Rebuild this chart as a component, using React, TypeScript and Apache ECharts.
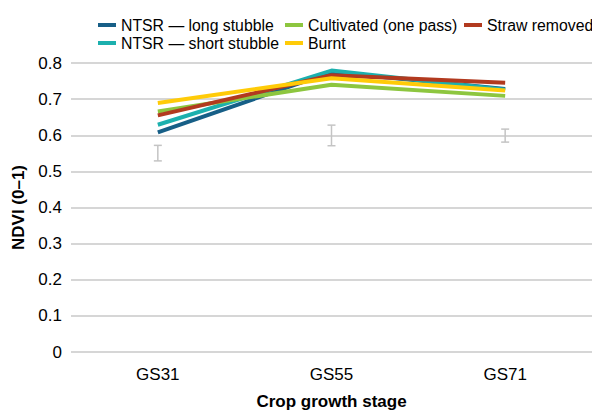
import React, { useEffect, useRef } from "react";
import * as echarts from "echarts";

const categories = ["GS31", "GS55", "GS71"];
const seriesNames = [
  "NTSR — long stubble",
  "NTSR — short stubble",
  "Cultivated (one pass)",
  "Straw removed",
  "Burnt",
];
const longStubble = [0.608, 0.775, 0.728];
const shortStubble = [0.629, 0.779, 0.726];
const cultivated = [0.666, 0.74, 0.709];
const strawRemoved = [0.655, 0.766, 0.745];
const burnt = [0.689, 0.758, 0.724];
const errLow = [0.529, 0.571, 0.581];
const errHigh = [0.572, 0.628, 0.617];
const colors = ["#175f87", "#1cb0ae", "#8dc63f", "#b23a1f", "#ffcb08"];
const yTicks = { min: 0, max: 0.8, interval: 0.1 };

export default function App() {
  const ref = useRef<HTMLDivElement>(null);
  useEffect(() => {
    const chart = echarts.init(ref.current!, null, { renderer: "svg" });
    const values = [longStubble, shortStubble, cultivated, strawRemoved, burnt];
    const font = "'Liberation Sans', Arial, Helvetica, sans-serif";
    const legendCommon = {
      orient: "vertical" as const,
      top: 12,
      itemWidth: 18,
      itemHeight: 4,
      itemGap: 2,
      icon: "rect",
      textStyle: { fontFamily: font, fontSize: 15.8, color: "#000" },
    };
    chart.setOption({
      animation: false,
      textStyle: { fontFamily: font },
      legend: [
        { ...legendCommon, left: 93, data: [seriesNames[0], seriesNames[1]] },
        { ...legendCommon, left: 280, data: [seriesNames[2], seriesNames[4]] },
        { ...legendCommon, left: 459, data: [seriesNames[3]] },
      ],
      grid: { left: 71, top: 63, width: 529, height: 294, containLabel: false },
      xAxis: {
        type: "category",
        data: categories,
        boundaryGap: true,
        axisLine: { show: false },
        axisTick: { show: false },
        axisLabel: { fontSize: 17, color: "#000", margin: 14, fontFamily: font },
        name: "Crop growth stage",
        nameLocation: "middle",
        nameGap: 41,
        nameTextStyle: { fontSize: 17, fontWeight: "bold", color: "#000", fontFamily: font },
      },
      yAxis: {
        type: "value",
        min: yTicks.min,
        max: yTicks.max,
        interval: yTicks.interval,
        axisLine: { show: false },
        axisTick: { show: false },
        axisLabel: { fontSize: 17, color: "#000", margin: 9, fontFamily: font },
        splitLine: { lineStyle: { color: "#c8c8c8", width: 1.5 } },
        name: "NDVI (0–1)",
        nameLocation: "middle",
        nameGap: 43,
        nameRotate: 90,
        nameTextStyle: { fontSize: 17, fontWeight: "bold", color: "#000", fontFamily: font },
      },
      series: [
        {
          type: "custom",
          name: "err",
          data: categories.map((_, i) => [i, errLow[i], errHigh[i]]),
          renderItem: (params: any, api: any) => {
            const x = api.value(0);
            const lo = api.coord([x, api.value(1)]);
            const hi = api.coord([x, api.value(2)]);
            const cap = 4;
            const style = { stroke: "#c4c4c4", lineWidth: 1.5 };
            return {
              type: "group",
              children: [
                { type: "line", shape: { x1: lo[0], y1: lo[1], x2: hi[0], y2: hi[1] }, style },
                { type: "line", shape: { x1: lo[0] - cap, y1: lo[1], x2: lo[0] + cap, y2: lo[1] }, style },
                { type: "line", shape: { x1: hi[0] - cap, y1: hi[1], x2: hi[0] + cap, y2: hi[1] }, style },
              ],
            };
          },
          z: 1,
        },
        ...seriesNames.map((name, i) => ({
          type: "line",
          name,
          data: values[i],
          color: colors[i],
          symbol: "none",
          lineStyle: { width: 4, color: colors[i] },
          z: 2 + i,
        })),
      ],
    });
    return () => chart.dispose();
  }, []);
  return (
    <div
      ref={ref}
      style={{ position: "fixed", left: 0, top: 0, width: 592, height: 415, background: "#fff" }}
    />
  );
}
